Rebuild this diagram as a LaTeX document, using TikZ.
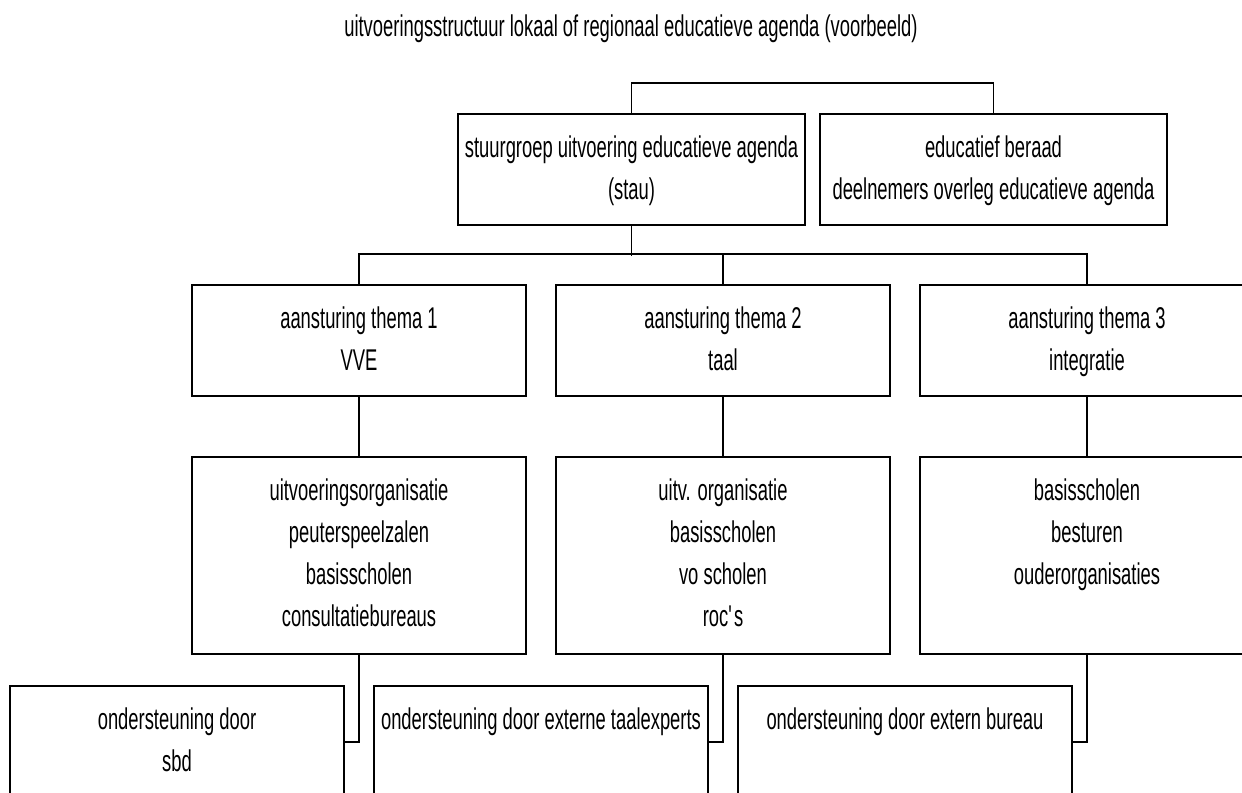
\documentclass[tikz,border=0pt]{standalone}
\usepackage{fontspec}
\setmainfont{Liberation Sans}[FakeStretch=0.613]
\usepackage{tikz}

% box text: width, height, lines (top aligned)
\newcommand{\boxtxt}[3]{\parbox[c][#2][t]{#1}{\centering\rule{0pt}{0.88cm}#3}}

\tikzset{
  box/.style={draw, line width=1pt, inner sep=0pt, anchor=north},
  link/.style={line width=0.8pt},
}

\begin{document}
\begin{tikzpicture}[x=0.02cm, y=-0.02cm, font=\fontsize{17.07pt}{23.9pt}\selectfont]
            \path[use as bounding box, clip] (0,0) rectangle (1242,792);
            \node[anchor=base] at (631,36) (title) {uitvoeringsstructuur lokaal of regionaal educatieve agenda (voorbeeld)};
            \node[box] at (631.5,113) (stau) {\boxtxt{6.94cm}{2.22cm}{stuurgroep uitvoering educatieve agenda\\(stau)}};
            \node[box] at (993.5,113) (beraad) {\boxtxt{6.94cm}{2.22cm}{educatief beraad\\deelnemers overleg educatieve agenda}};
            \node[box] at (359,284) (thema1) {\boxtxt{6.68cm}{2.22cm}{aansturing thema 1\\VVE}};
            \node[box] at (723,284) (thema2) {\boxtxt{6.68cm}{2.22cm}{aansturing thema 2\\taal}};
            \node[box] at (1087,284) (thema3) {\boxtxt{6.68cm}{2.22cm}{aansturing thema 3\\integratie}};
            \node[box] at (359,456) (org1) {\boxtxt{6.68cm}{3.94cm}{uitvoeringsorganisatie\\peuterspeelzalen\\basisscholen\\consultatiebureaus}};
            \node[box] at (723,456) (org2) {\boxtxt{6.68cm}{3.94cm}{uitv. organisatie\\basisscholen\\vo scholen\\roc\textquotesingle s}};
            \node[box] at (1087,456) (org3) {\boxtxt{6.68cm}{3.94cm}{basisscholen\\besturen\\ouderorganisaties}};
            \node[box] at (177,685) (steun1) {\boxtxt{6.68cm}{2.24cm}{ondersteuning door\\sbd}};
            \node[box] at (541,685) (steun2) {\boxtxt{6.68cm}{2.24cm}{ondersteuning door externe taalexperts}};
            \node[box] at (905,685) (steun3) {\boxtxt{6.68cm}{2.24cm}{ondersteuning door extern bureau}};
            \draw[link] (stau.north) -- ++(0,-30) -| (beraad.north);
            \draw[link] (stau.south) -- ++(0,30);
            \draw[link] (thema1.north) -- ++(0,-30) -| (thema3.north);
            \draw[link] (thema2.north) -- ++(0,-30);
            \draw[link] (thema1) to (org1);
            \draw[link] (thema2) to (org2);
            \draw[link] (thema3) to (org3);
            \draw[link] (org1.south) |- (steun1.east);
            \draw[link] (org2.south) |- (steun2.east);
            \draw[link] (org3.south) |- (steun3.east);
        \end{tikzpicture}
\end{document}
